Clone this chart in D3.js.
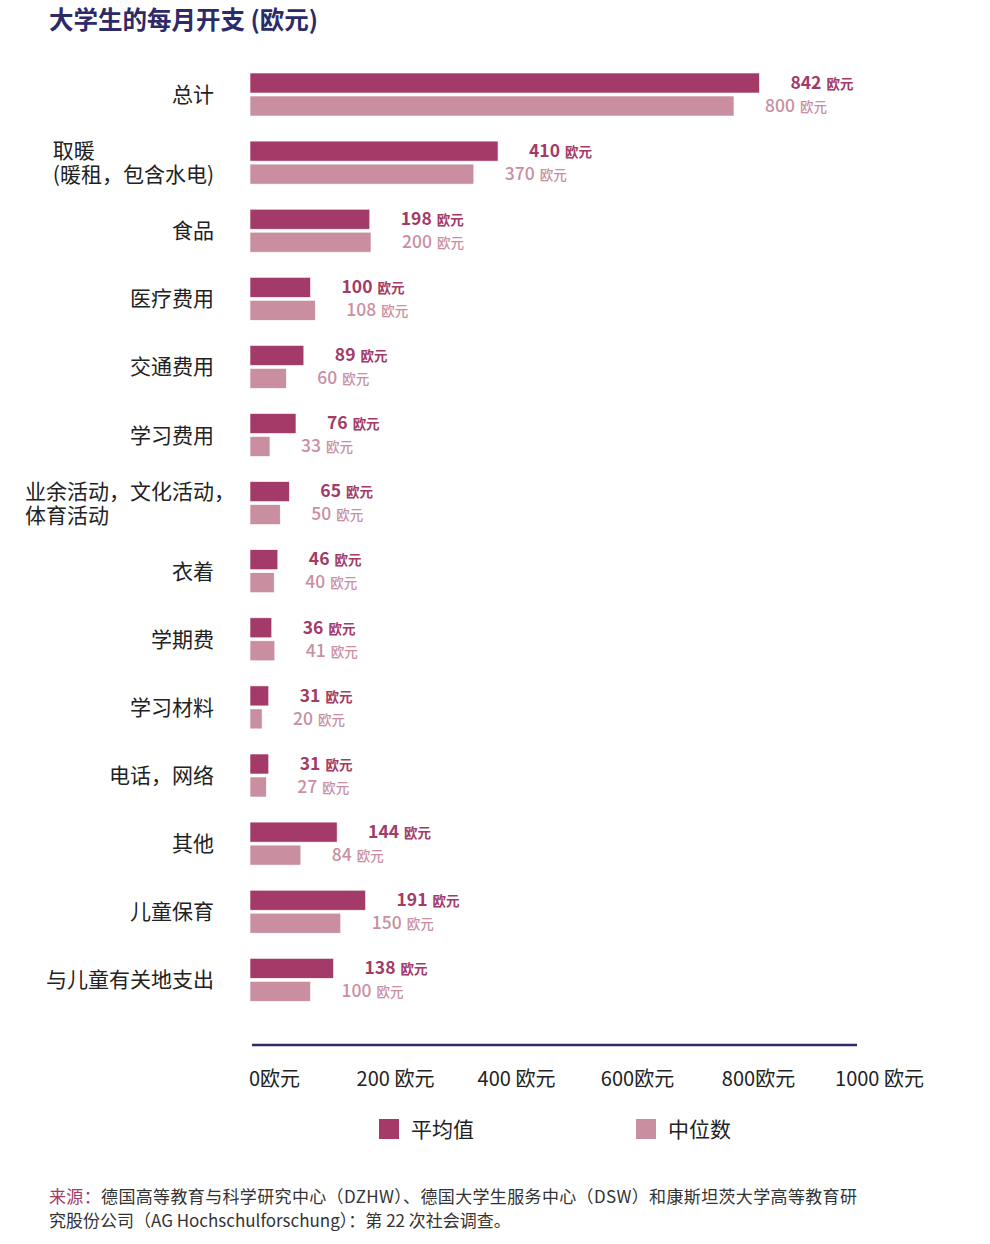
<!DOCTYPE html>
<html>
<head>
<meta charset="utf-8">
<script src="https://cdn.jsdelivr.net/npm/d3@7"></script>
<style>
  body { margin: 0; background: #fff; }
  text { font-family: "Noto Sans CJK SC", "Noto Sans", sans-serif; }
</style>
</head>
<body>
<div id="chart"></div>
<script>
var categories = ['总计', '取暖\n(暖租，包含水电)', '食品', '医疗费用', '交通费用', '学习费用',
  '业余活动，文化活动，\n体育活动', '衣着', '学期费', '学习材料', '电话，网络', '其他', '儿童保育', '与儿童有关地支出'];
var meanValues = [842, 410, 198, 100, 89, 76, 65, 46, 36, 31, 31, 144, 191, 138];
var medianValues = [800, 370, 200, 108, 60, 33, 50, 40, 41, 20, 27, 84, 150, 100];
var tickValues = [0, 200, 400, 600, 800, 1000];
var tickLabels = ['0欧元', '200 欧元', '400 欧元', '600欧元', '800欧元', '1000 欧元'];
var seriesNames = ['平均值', '中位数'];
var colors = { mean: '#a43a67', median: '#c98fa1' };

var width = 990, height = 1244;
var rows = categories.map(function (c, i) {
  return { cat: c, mean: meanValues[i], median: medianValues[i] };
});

var svg = d3.select('#chart')
  .append('svg')
    .attr('width', width)
    .attr('height', height);

// title
svg.append('text')
  .attr('x', 49)
  .attr('y', 29)
  .style('font-size', '24.5px')
  .style('font-weight', 700)
  .style('fill', '#2d2a6a')
  .text('大学生的每月开支 (欧元)');

var x = d3.scaleLinear()
  .domain([0, 1000])
  .range([250, 855]);

var y = d3.scaleBand()
  .domain(categories)
  .range([73, 1001.3])
  .paddingInner(0.3686)
  .paddingOuter(0);

var sub = d3.scaleBand()
  .domain(['mean', 'median'])
  .range([0, y.bandwidth()])
  .paddingInner(0.13);

var g = svg.selectAll('g.row')
  .data(rows)
  .enter().append('g')
    .classed('row', true)
    .attr('transform', function (d) { return 'translate(0,' + y(d.cat) + ')'; });

['mean', 'median'].forEach(function (key) {
  g.append('rect')
    .attr('x', x(0))
    .attr('y', sub(key))
    .attr('width', function (d) { return x(d[key]) - x(0); })
    .attr('height', sub.bandwidth())
    .style('fill', colors[key])
    .style('stroke', '#fff')
    .style('stroke-width', 0.6);

  var lbl = g.append('text')
    .attr('x', function (d) { return x(d[key]) + 31; })
    .attr('y', sub(key) + sub.bandwidth() / 2)
    .attr('dy', '0.36em')
    .style('fill', colors[key])
    .style('font-weight', key === 'mean' ? 700 : 500);
  lbl.append('tspan')
    .style('font-size', '17.5px')
    .text(function (d) { return d[key]; });
  lbl.append('tspan')
    .attr('dx', 5)
    .style('font-size', '13.5px')
    .text('欧元');
});

// category labels: single lines right-aligned, wrapped ones left-aligned as a block
g.each(function (d) {
  var lines = d.cat.split('\n');
  var sel = d3.select(this);
  var cy = y.bandwidth() / 2;
  var texts = lines.map(function (line, i) {
    return sel.append('text')
      .attr('y', cy + (i - (lines.length - 1) / 2) * 24)
      .attr('dy', '0.36em')
      .style('font-size', '21px')
      .style('fill', '#222')
      .text(line);
  });
  if (lines.length === 1) {
    texts[0].attr('text-anchor', 'end').attr('x', 214);
  } else {
    var maxW = 0;
    texts.forEach(function (t, i) {
      var w = t.node().getComputedTextLength();
      if (lines[i].slice(-1) === '，') w -= 21;
      maxW = Math.max(maxW, w);
    });
    texts.forEach(function (t) { t.attr('x', 214 - maxW); });
  }
});

// axis
var axis = svg.append('g')
  .attr('transform', 'translate(0,1045)')
  .call(d3.axisBottom(x)
    .tickValues(tickValues)
    .tickSize(0)
    .tickFormat(function (d, i) { return tickLabels[i]; }));
axis.select('.domain')
  .attr('d', 'M' + (x(0) + 2) + ',0H' + (x(1000) + 2))
  .style('stroke', '#2d2a6a')
  .style('stroke-width', 2.5);
axis.selectAll('.tick text')
  .attr('x', 24)
  .attr('y', 34)
  .attr('dy', '0.36em')
  .style('font-size', '20px')
  .style('fill', '#222')
  .style('font-family', '"Noto Sans CJK SC", sans-serif');

// legend
var legend = svg.selectAll('g.legend')
  .data(['mean', 'median'])
  .enter().append('g')
    .classed('legend', true)
    .attr('transform', function (d, i) { return 'translate(' + (379 + i * 257) + ',1119)'; });
legend.append('rect')
  .attr('width', 20)
  .attr('height', 20)
  .style('fill', function (d) { return colors[d]; });
legend.append('text')
  .attr('x', 32)
  .attr('y', 10)
  .attr('dy', '0.36em')
  .style('font-size', '21px')
  .style('fill', '#222')
  .text(function (d, i) { return seriesNames[i]; });

// source
var src = svg.append('text')
  .attr('x', 49)
  .attr('y', 1203)
  .style('font-size', '17px')
  .style('letter-spacing', '0.35px')
  .style('fill', '#333');
src.append('tspan')
  .style('fill', '#a43a67')
  .text('来源：');
src.append('tspan')
  .text('德国高等教育与科学研究中心（DZHW）、德国大学生服务中心（DSW）和康斯坦茨大学高等教育研');
svg.append('text')
  .attr('x', 49)
  .attr('y', 1227)
  .style('font-size', '17px')
  .style('fill', '#333')
  .text('究股份公司（AG Hochschulforschung）：第 22 次社会调查。');
</script>
</body>
</html>
